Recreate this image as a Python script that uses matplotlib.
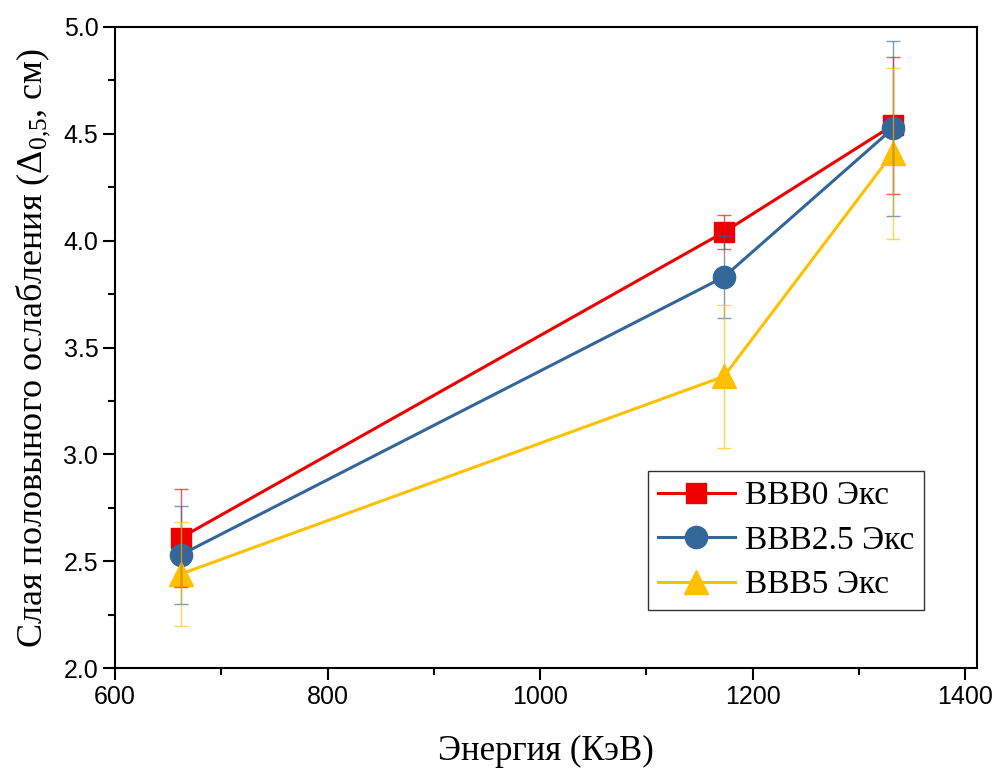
import numpy as np
import matplotlib
matplotlib.use("Agg")
import matplotlib.pyplot as plt
from matplotlib.ticker import MultipleLocator, FormatStrFormatter

plt.rcParams.update({
    "font.family": "Liberation Serif",
    "mathtext.fontset": "custom",
    "mathtext.rm": "Liberation Serif",
    "mathtext.it": "Liberation Serif:italic",
})

# ── data ───────────────────────────────────────────────────────────────────
energy = [662, 1173, 1332]

labels = ["BBB0 Экс", "BBB2.5 Экс", "BBB5 Экс"]
bbb0 = [2.61, 4.04, 4.54]
bbb0_err = [0.23, 0.08, 0.32]
bbb25 = [2.53, 3.83, 4.525]
bbb25_err = [0.23, 0.19, 0.41]
bbb5 = [2.44, 3.365, 4.41]
bbb5_err = [0.245, 0.335, 0.40]

colors = ["#EE0000", "#336699", "#FFC000"]
markers = ["s", "o", "^"]
msizes = [14, 16, 17]

# ── figure ─────────────────────────────────────────────────────────────────
fig = plt.figure(figsize=(9.95, 7.69), dpi=100)
ax = fig.add_axes([0.1156, 0.1313, 0.8664, 0.8336])

series = [(bbb0, bbb0_err), (bbb25, bbb25_err), (bbb5, bbb5_err)]
for i, ((y, e), lab) in enumerate(zip(series, labels)):
    ax.plot(energy, y, color=colors[i], lw=2.2, marker=markers[i],
            ms=msizes[i], label=lab, zorder=3 + i)
    ax.errorbar(energy, y, yerr=e, fmt="none", ecolor=colors[i],
                elinewidth=1.0, capsize=4.8, capthick=1.0, alpha=0.65,
                zorder=7)

ax.set_xlim(600, 1411.3)
ax.set_ylim(2.0, 5.0)
ax.xaxis.set_major_locator(MultipleLocator(200))
ax.xaxis.set_minor_locator(MultipleLocator(100))
ax.yaxis.set_major_locator(MultipleLocator(0.5))
ax.yaxis.set_minor_locator(MultipleLocator(0.25))
ax.yaxis.set_major_formatter(FormatStrFormatter("%.1f"))

ax.tick_params(which="major", direction="out", length=8.5, width=1.5,
               labelsize=18, top=False, right=False)
ax.tick_params(which="minor", direction="out", length=5, width=1.5,
               top=False, right=False)
for lbl in ax.get_xticklabels() + ax.get_yticklabels():
    lbl.set_fontfamily("Liberation Sans")
for sp in ax.spines.values():
    sp.set_linewidth(1.5)

ax.set_xlabel("Энергия (КэВ)", fontsize=25, labelpad=19)
ax.set_ylabel(r"Слая половыного ослабления ($\Delta_{0{,}5}$, см)",
              fontsize=26, labelpad=8)

leg = ax.legend(loc="lower right", bbox_to_anchor=(0.9385, 0.09),
                fontsize=24, frameon=True, fancybox=False,
                edgecolor="black", handlelength=2.3, borderpad=0.3,
                labelspacing=0.42, handletextpad=0.3, borderaxespad=0)
leg.get_frame().set_linewidth(1.0)

fig.savefig("out.png", dpi=100, facecolor="white")
plt.close(fig)
